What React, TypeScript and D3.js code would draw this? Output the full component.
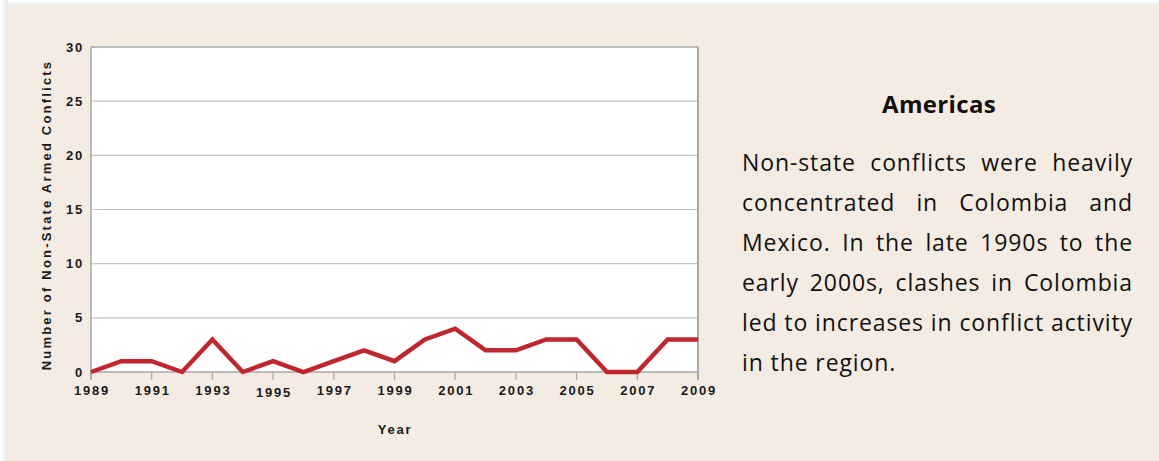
import React from 'react';
import * as d3 from 'd3';

const years = [1989, 1990, 1991, 1992, 1993, 1994, 1995, 1996, 1997, 1998, 1999, 2000, 2001, 2002, 2003, 2004, 2005, 2006, 2007, 2008, 2009];
const conflicts = [0, 1, 1, 0, 3, 0, 1, 0, 1, 2, 1, 3, 4, 2, 2, 3, 3, 0, 0, 3, 3];
const yTicks = [0, 5, 10, 15, 20, 25, 30];
const xTicks = [1989, 1991, 1993, 1995, 1997, 1999, 2001, 2003, 2005, 2007, 2009];
const title = 'Americas';
const bodyLines = [
  'Non-state conflicts were heavily',
  'concentrated in Colombia and',
  'Mexico. In the late 1990s to the',
  'early 2000s, clashes in Colombia',
  'led to increases in conflict activity',
  'in the region.',
];

const W = 1159;
const H = 461;
const plot = { left: 91, right: 698, top: 47, bottom: 372 };
const bodySize = 23;
const bodyFont = `${bodySize}px "Open Sans"`;
const titleSize = 24;
const titleFont = `700 ${titleSize}px "Open Sans"`;
const textLeft = 742;
const textRight = 1133;

let ctx: CanvasRenderingContext2D | null = null;
function measure(s: string, font: string): number {
  if (!ctx) ctx = document.createElement('canvas').getContext('2d');
  ctx!.font = font;
  return ctx!.measureText(s).width;
}

export default function App() {
  const x = d3.scaleLinear().domain([1989, 2009]).range([plot.left, plot.right]);
  const y = d3.scaleLinear().domain([0, 30]).range([plot.bottom, plot.top]);
  const line = d3
    .line<number>()
    .x((_, i) => x(years[i]))
    .y((d) => y(d));

  const axisFont = {
    fontFamily: '"Liberation Sans", Arial, sans-serif',
    fontWeight: 700,
    fontSize: 13,
    letterSpacing: 1.8,
    fill: '#1a1a1a',
  } as const;

  const refLine = bodyLines[4];
  const ls = (textRight - textLeft - measure(refLine, bodyFont)) / refLine.length;
  const wordWidth = (w: string) => measure(w, bodyFont) + ls * w.length;
  const titleLs = (114 - measure(title, titleFont)) / title.length;

  const words = bodyLines.map((ln, li) => {
    const ws = ln.split(' ');
    const widths = ws.map(wordWidth);
    const total = widths.reduce((a, b) => a + b, 0);
    const last = li === bodyLines.length - 1;
    const gap = last || ws.length < 2 ? wordWidth(' ') : (textRight - textLeft - total) / (ws.length - 1);
    let cx = textLeft;
    return ws.map((w, i) => {
      const pos = cx;
      cx += widths[i] + gap;
      return { w, x: pos };
    });
  });

  return (
    <div style={{ position: 'absolute', left: 0, top: 0 }}>
      <svg width={W} height={H} style={{ display: 'block' }}>
        <defs>
          <linearGradient id="shadowL" x1="0" x2="1" y1="0" y2="0">
            <stop offset="0" stopColor="#ffffff" />
            <stop offset="1" stopColor="#e6e6e6" />
          </linearGradient>
          <linearGradient id="shadowT" x1="0" x2="0" y1="0" y2="1">
            <stop offset="0" stopColor="#ffffff" />
            <stop offset="1" stopColor="#ececec" />
          </linearGradient>
        </defs>
        <rect x={0} y={0} width={W} height={H} fill="#ffffff" />
        <rect x={0} y={0} width={8} height={H} fill="url(#shadowL)" />
        <rect x={8} y={0} width={W} height={6} fill="url(#shadowT)" />
        <rect x={8} y={6} width={W - 8} height={H - 6} fill="#F4EBE2" />

        <rect x={plot.left} y={plot.top} width={plot.right - plot.left} height={plot.bottom - plot.top} fill="#ffffff" />
        {yTicks.filter((t) => t > 0 && t < 30).map((t) => (
          <line key={t} x1={plot.left} x2={plot.right} y1={y(t)} y2={y(t)} stroke="#c4c4c4" strokeWidth={1.2} />
        ))}
        {xTicks.map((t) => (
          <line key={t} x1={x(t)} x2={x(t)} y1={plot.bottom} y2={plot.bottom + 8} stroke="#a8a8a8" strokeWidth={1.2} />
        ))}
        <line x1={plot.left} x2={plot.right} y1={plot.top} y2={plot.top} stroke="#a8a8a8" strokeWidth={1.5} />
        <line x1={plot.left} x2={plot.right} y1={plot.bottom} y2={plot.bottom} stroke="#a8a8a8" strokeWidth={1.5} />
        <line x1={plot.left} x2={plot.left} y1={plot.top} y2={plot.bottom + 8} stroke="#a8a8a8" strokeWidth={1.5} />
        <line x1={plot.right} x2={plot.right} y1={plot.top} y2={plot.bottom + 8} stroke="#a8a8a8" strokeWidth={2} />

        <path d={line(conflicts) || ''} fill="none" stroke="#C0272D" strokeWidth={4.5} strokeLinejoin="miter" />

        {yTicks.map((t) => (
          <text key={t} x={84} y={y(t)} dy="0.35em" textAnchor="end" style={axisFont}>
            {t}
          </text>
        ))}
        {xTicks.map((t) => (
          <text key={t} x={x(t) + 1} y={t === 1995 ? 397 : 395} textAnchor="middle" style={axisFont}>
            {t}
          </text>
        ))}
        <text x={395} y={434} textAnchor="middle" style={axisFont}>
          Year
        </text>
        <text
          transform={`translate(51, 215) rotate(-90)`}
          textAnchor="middle"
          style={{ ...axisFont, letterSpacing: 2.2 }}
        >
          Number of Non-State Armed Conflicts
        </text>

        <text
          x={939}
          y={113}
          textAnchor="middle"
          style={{ fontFamily: '"Open Sans"', fontWeight: 700, fontSize: titleSize, letterSpacing: titleLs, fill: '#111' }}
        >
          {title}
        </text>
        {words.map((ws, li) =>
          ws.map((w, i) => (
            <text
              key={`${li}-${i}`}
              x={w.x}
              y={171 + li * 40}
              style={{ fontFamily: '"Open Sans"', fontSize: bodySize, letterSpacing: ls, fill: '#111' }}
            >
              {w.w}
            </text>
          ))
        )}
      </svg>
    </div>
  );
}
